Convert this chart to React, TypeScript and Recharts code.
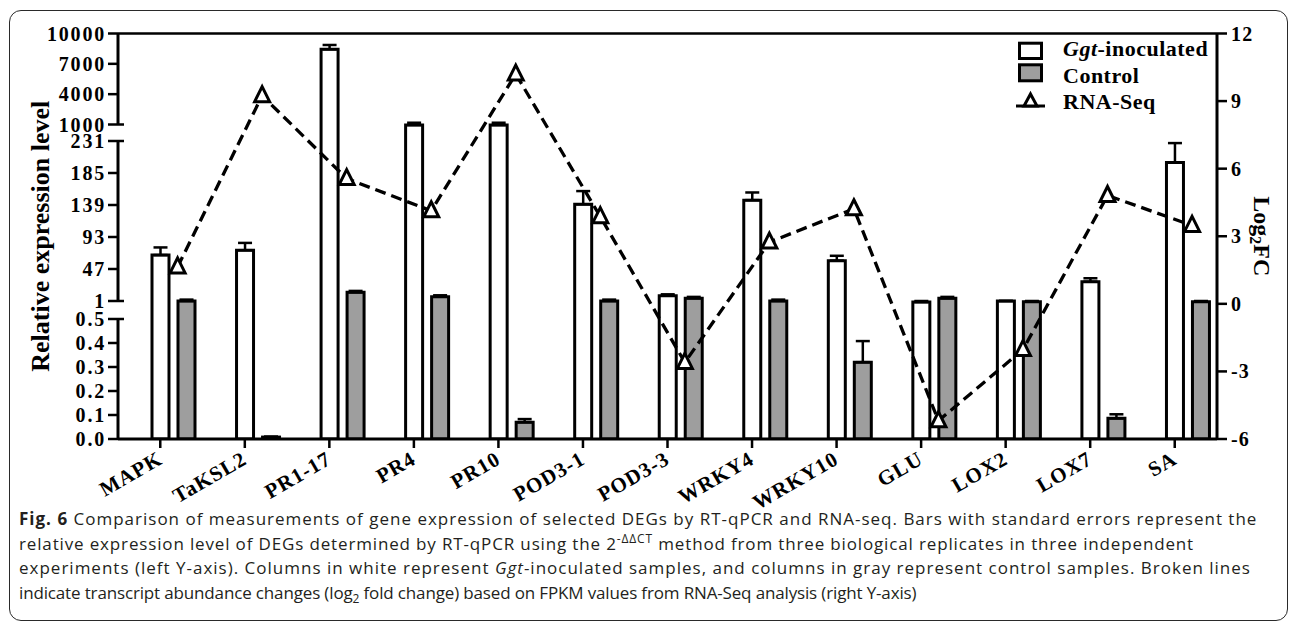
import {
  ComposedChart,
  Bar,
  Line,
  XAxis,
  YAxis,
  ErrorBar,
  ReferenceLine,
  Legend,
} from 'recharts';

const categories = ['MAPK', 'TaKSL2', 'PR1-17', 'PR4', 'PR10', 'POD3-1', 'POD3-3', 'WRKY4', 'WRKY10', 'GLU', 'LOX2', 'LOX7', 'SA'];
const ggtInoculated = [67, 74, 8440, 975, 975, 140, 8.6, 146, 59, 0.97, 1.0, 28.7, 200];
const ggtError = [11, 10.5, 425, 200, 200, 19, 2, 11, 7, 0.03, 0.03, 5, 28];
const control = [1.0, 0.008, 13.5, 7.2, 0.07, 1.0, 4.9, 1.0, 0.32, 4.9, 0.98, 0.086, 0.98];
const controlError = [2, 0.002, 2, 2, 0.013, 2, 2, 2, 0.088, 2, 0.03, 0.017, 0.03];
const rnaSeqLog2FC = [1.64, 9.24, 5.56, 4.13, 10.2, 3.87, -2.6, 2.74, 4.22, -5.19, -2.03, 4.81, 3.48];

const leftTickValues = [0, 0.1, 0.2, 0.3, 0.4, 0.5, 1, 47, 93, 139, 185, 231, 1000, 4000, 7000, 10000];
const leftTickLabels = ['0.0', '0.1', '0.2', '0.3', '0.4', '0.5', '1', '47', '93', '139', '185', '231', '1000', '4000', '7000', '10000'];
const breakTicks = ['0.5', '1', '231', '1000'];
const leftSegments = [[0, 0.5], [1, 231], [1000, 10000]];
const rightTicks = [-6, -3, 0, 3, 6, 9, 12];

// left axis is broken in three linear pieces; map values to drawing units
const toAxis = (v: number) => {
  if (v <= 0.5) return v * 240;
  if (v < 1) return 120 + (v - 0.5) * 36;
  if (v <= 231) return 138 + ((v - 1) * 160) / 230;
  if (v < 1000) return 298 + ((v - 231) * 16.5) / 769;
  return 314.5 + ((v - 1000) * 91) / 9000;
};
const AXIS_TOP = toAxis(10000);
const LINE_SHIFT = 0.205; // RNA-Seq points sit a bit right of the category centre

const data = categories.map((name, i) => ({
  name,
  idx: i,
  ggt: toAxis(ggtInoculated[i]),
  ggtErr: [0, toAxis(ggtInoculated[i] + ggtError[i]) - toAxis(ggtInoculated[i])],
  ctrl: toAxis(control[i]),
  ctrlErr: [0, toAxis(control[i] + controlError[i]) - toAxis(control[i])],
  rna: rnaSeqLog2FC[i],
}));

const SERIF = '"Liberation Serif", "Times New Roman", serif';
const TICK_SIZE = 10;
const TICK_MARGIN = 2;

const LeftTick = ({ x, y, index }: any) => {
  const label = leftTickLabels[index];
  const axisX = x + TICK_SIZE + TICK_MARGIN;
  return (
    <g>
      {breakTicks.includes(label) && (
        <line x1={axisX} x2={axisX + 6} y1={y} y2={y} stroke="#000" strokeWidth={2.5} />
      )}
      <text x={x} y={y} dy={7} textAnchor="end" fontFamily={SERIF} fontWeight="bold" fontSize={20} letterSpacing={1.8} fill="#000">
        {label}
      </text>
    </g>
  );
};

const RightTick = ({ x, y, payload }: any) => (
  <text x={x} y={y} dy={7} textAnchor="start" fontFamily={SERIF} fontWeight="bold" fontSize={20} letterSpacing={1.2} fill="#000">
    {payload.value}
  </text>
);

const TriangleDot = ({ cx, cy }: any) => {
  if (cx == null || cy == null) return null;
  return (
    <path
      d={`M${cx},${cy - 9} L${cx + 7.5},${cy + 6} L${cx - 7.5},${cy + 6} Z`}
      fill="#fff"
      stroke="#000"
      strokeWidth={3}
    />
  );
};

const renderLegend = () => (
  <svg width={240} height={85} style={{ display: 'block', overflow: 'visible' }}>
    <rect x={14.5} y={7.2} width={22} height={15.3} fill="#fff" stroke="#000" strokeWidth={3} />
    <rect x={14.5} y={28.8} width={22} height={16} fill="#9e9e9e" stroke="#000" strokeWidth={3} />
    <line x1={11} x2={40} y1={70} y2={70} stroke="#000" strokeWidth={3} />
    <path d="M25.5,58 L32,70 L19,70 Z" fill="#fff" stroke="#000" strokeWidth={3} />
    <g fontFamily={SERIF} fontWeight="bold" fontSize={22} letterSpacing={0.5} fill="#000">
      <text x={58} y={20}>
        <tspan fontStyle="italic">Ggt</tspan>-inoculated
      </text>
      <text x={58} y={47}>Control</text>
      <text x={58} y={73}>RNA-Seq</text>
    </g>
  </svg>
);

const captionLine = (spacing: number) => ({ letterSpacing: spacing });

export default function App() {
  return (
    <div style={{ position: 'absolute', left: 0, top: 0, width: 1290, height: 626, background: '#fff' }}>
      <style>{'body{margin:0}'}</style>
      <ComposedChart
        width={1290}
        height={540}
        data={data}
        margin={{ top: 33.5, right: 13, bottom: 41, left: 20 }}
        barGap={9}
      >
        <XAxis
          xAxisId="cat"
          dataKey="name"
          interval={0}
          height={60}
          tickSize={9}
          tickMargin={2}
          angle={-30}
          textAnchor="end"
          tickLine={{ stroke: '#000', strokeWidth: 2.5 }}
          axisLine={{ stroke: '#000', strokeWidth: 3 }}
          tick={{ fill: '#000', fontFamily: SERIF, fontWeight: 'bold', fontSize: 21, letterSpacing: 1, dx: -4, dy: 0 }}
        />
        <XAxis
          xAxisId="num"
          type="number"
          dataKey="idx"
          domain={[-0.5 - LINE_SHIFT, 12.5 - LINE_SHIFT]}
          allowDataOverflow
          hide
        />
        <YAxis
          yAxisId="left"
          type="number"
          width={98}
          domain={[0, AXIS_TOP]}
          allowDataOverflow
          ticks={leftTickValues.map(toAxis)}
          interval={0}
          axisLine={false}
          tickSize={TICK_SIZE}
          tickMargin={TICK_MARGIN}
          tickLine={{ stroke: '#000', strokeWidth: 2.5 }}
          tick={<LeftTick />}
          label={{
            content: ({ viewBox }: any) => {
              const cx = viewBox.x + 20;
              const cy = viewBox.y + viewBox.height / 2;
              return (
                <text x={cx} y={cy} transform={`rotate(-90, ${cx}, ${cy})`} textAnchor="middle" dominantBaseline="central" fontFamily={SERIF} fontWeight="bold" fontSize={26} fill="#000">
                  Relative expression level
                </text>
              );
            },
          }}
        />
        <YAxis
          yAxisId="right"
          orientation="right"
          type="number"
          width={60}
          domain={[-6, 12]}
          allowDataOverflow
          ticks={rightTicks}
          interval={0}
          tickSize={10}
          tickMargin={4}
          tickLine={{ stroke: '#000', strokeWidth: 2.5 }}
          axisLine={{ stroke: '#000', strokeWidth: 3 }}
          tick={<RightTick />}
          label={{
            content: ({ viewBox }: any) => {
              const cx = viewBox.x + 45;
              const cy = viewBox.y + viewBox.height / 2;
              return (
                <text x={cx} y={cy} transform={`rotate(90, ${cx}, ${cy})`} textAnchor="middle" dominantBaseline="central" fontFamily={SERIF} fontWeight="bold" fontSize={24} fill="#000">
                  Log<tspan fontSize={16} dy={6}>2</tspan><tspan dy={-6}>FC</tspan>
                </text>
              );
            },
          }}
        />
        {leftSegments.map(([a, b]) => (
          <ReferenceLine
            key={a}
            xAxisId="num"
            yAxisId="left"
            ifOverflow="visible"
            segment={[{ x: -0.5 - LINE_SHIFT, y: toAxis(a) }, { x: -0.5 - LINE_SHIFT, y: toAxis(b) }]}
            stroke="#000"
            strokeWidth={3}
          />
        ))}
        <ReferenceLine xAxisId="num" yAxisId="left" y={AXIS_TOP} ifOverflow="visible" stroke="#000" strokeWidth={2.5} />
        <Bar xAxisId="cat" yAxisId="left" dataKey="spacer" barSize={17} isAnimationActive={false} />
        <Bar xAxisId="cat" yAxisId="left" dataKey="ggt" name="Ggt-inoculated" barSize={17} fill="#fff" stroke="#000" strokeWidth={3} isAnimationActive={false}>
          <ErrorBar dataKey="ggtErr" direction="y" width={7} stroke="#000" strokeWidth={2.5} isAnimationActive={false} />
        </Bar>
        <Bar xAxisId="cat" yAxisId="left" dataKey="ctrl" name="Control" barSize={17} fill="#9e9e9e" stroke="#000" strokeWidth={3} isAnimationActive={false}>
          <ErrorBar dataKey="ctrlErr" direction="y" width={7} stroke="#000" strokeWidth={2.5} isAnimationActive={false} />
        </Bar>
        <Line
          xAxisId="num"
          yAxisId="right"
          dataKey="rna"
          name="RNA-Seq"
          stroke="#000"
          strokeWidth={3.3}
          strokeDasharray="11 6"
          dot={<TriangleDot />}
          activeDot={false}
          isAnimationActive={false}
        />
        <Legend
          layout="vertical"
          verticalAlign="middle"
          align="center"
          content={renderLegend}
          wrapperStyle={{ left: 1005, top: 36, width: 240, height: 85 }}
        />
      </ComposedChart>
      <div
        style={{
          position: 'absolute',
          left: 9,
          top: 10,
          width: 1277,
          height: 609,
          border: '1.5px solid #2a2a2a',
          borderRadius: 12,
          pointerEvents: 'none',
        }}
      />
      <div
        style={{
          position: 'absolute',
          left: 19,
          top: 507,
          fontFamily: '"Open Sans", sans-serif',
          fontSize: 17,
          lineHeight: '24.5px',
          color: '#231f20',
          whiteSpace: 'nowrap',
        }}
      >
        <div style={captionLine(1.0)}>
          <b>Fig. 6</b> Comparison of measurements of gene expression of selected DEGs by RT-qPCR and RNA-seq. Bars with standard errors represent the
        </div>
        <div style={captionLine(0.85)}>
          relative expression level of DEGs determined by RT-qPCR using the 2<sup style={{ fontSize: 12, lineHeight: 0 }}>-ΔΔCT</sup> method from three biological replicates in three independent
        </div>
        <div style={captionLine(1.0)}>
          experiments (left Y-axis). Columns in white represent <i>Ggt</i>-inoculated samples, and columns in gray represent control samples. Broken lines
        </div>
        <div style={captionLine(-0.15)}>
          indicate transcript abundance changes (log<sub style={{ fontSize: 12, lineHeight: 0 }}>2</sub> fold change) based on FPKM values from RNA-Seq analysis (right Y-axis)
        </div>
      </div>
    </div>
  );
}
